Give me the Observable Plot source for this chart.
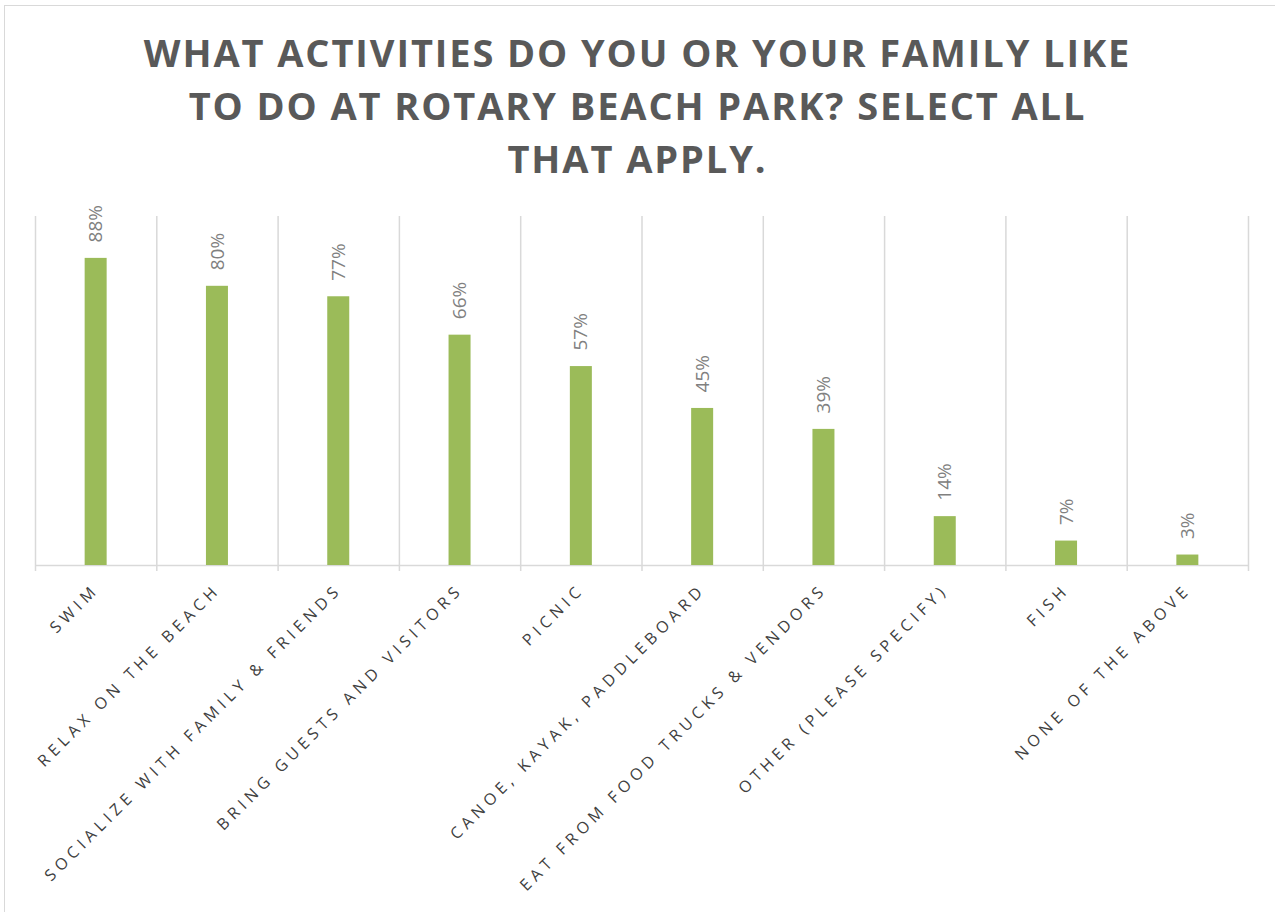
<!DOCTYPE html>
<html>
<head>
<meta charset="utf-8">
<script src="https://cdn.jsdelivr.net/npm/d3@7"></script>
<script src="https://cdn.jsdelivr.net/npm/@observablehq/plot@0.6"></script>
<style>
  html, body { margin: 0; padding: 0; background: #fff; }
  #wrap { position: relative; width: 1275px; height: 912px; overflow: hidden; background: #fff; }
  #frame { position: absolute; left: 4px; top: 5px; width: 1300px; height: 1000px; border: 1.5px solid #d9d9d9; box-sizing: border-box; pointer-events: none; }
  #title { position: relative; height: 195px; box-sizing: border-box; padding-top: 26px; text-align: center;
           font-family: "Open Sans", sans-serif; font-weight: 700; font-size: 38px; line-height: 53px;
           letter-spacing: 1.9px; color: #595959; }
  #chart { position: relative; }
</style>
</head>
<body>
<div id="wrap">
  <div id="frame"></div>
  <div id="title">WHAT ACTIVITIES DO YOU OR YOUR FAMILY LIKE<br>TO DO AT ROTARY BEACH PARK? SELECT ALL<br>THAT APPLY.</div>
  <div id="chart"></div>
</div>
<script>
const categories = [
  "SWIM",
  "RELAX ON THE BEACH",
  "SOCIALIZE WITH FAMILY & FRIENDS",
  "BRING GUESTS AND VISITORS",
  "PICNIC",
  "CANOE, KAYAK, PADDLEBOARD",
  "EAT FROM FOOD TRUCKS & VENDORS",
  "OTHER (PLEASE SPECIFY)",
  "FISH",
  "NONE OF THE ABOVE"
];
const values = [88, 80, 77, 66, 57, 45, 39, 14, 7, 3];

const data = categories.map((c, i) => ({category: c, value: values[i]}));

const W = 1275, H = 717;
const mL = 35, mR = 27, mT = 21, mB = 347;
const bw = (W - mL - mR) / categories.length;
const barW = 22;
const inset = (bw - barW) / 2;
const grid = "#d9d9d9";

const plot = Plot.plot({
  width: W,
  height: H,
  marginLeft: mL,
  marginRight: mR,
  marginTop: mT,
  marginBottom: mB,
  style: {fontFamily: "'Open Sans', sans-serif", background: "transparent", overflow: "visible"},
  x: {type: "band", domain: categories, padding: 0, round: false, axis: null},
  y: {domain: [0, 100], axis: null},
  marks: [
    Plot.ruleX(categories, {x: d => d, dx: -bw / 2, y1: 100, y2: 0, insetBottom: -6, stroke: grid, strokeWidth: 1.5}),
    Plot.ruleX(categories.slice(-1), {x: d => d, dx: bw / 2, y1: 100, y2: 0, insetBottom: -6, stroke: grid, strokeWidth: 1.5}),
    Plot.ruleY([0], {stroke: grid, strokeWidth: 1.5}),
    Plot.barY(data, {x: "category", y: "value", fill: "#9bbb59", insetLeft: inset, insetRight: inset}),
    Plot.text(data, {x: "category", y: "value", text: d => d.value + "%", rotate: -90, textAnchor: "start",
                     dy: -16, fontSize: 19, fill: "#808080"}),
    Plot.text(categories, {x: d => d, frameAnchor: "bottom", text: d => d, rotate: -45, textAnchor: "end",
                     dx: 4, dy: 25, fontSize: 16, fill: "#404040"})
  ]
});
document.getElementById("chart").appendChild(plot);
d3.select(plot).selectAll("text")
  .filter(function() { return categories.includes(this.textContent); })
  .style("letter-spacing", "4.8px");
</script>
</body>
</html>
